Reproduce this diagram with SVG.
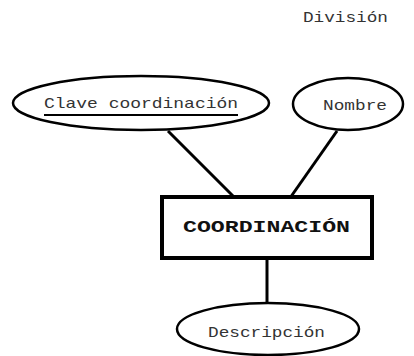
<svg xmlns="http://www.w3.org/2000/svg" width="414" height="356" viewBox="0 0 414 356">
  <style>
    .attr { fill: #ffffff; stroke: #000000; stroke-width: 2.5; }
    .entity { fill: #ffffff; stroke: #000000; stroke-width: 4; }
    .link { stroke: #000000; stroke-width: 3; fill: none; }
    .lbl { font-family: "Liberation Mono", "Courier New", monospace; font-size: 15px; fill: #333333; }
    .title { font-family: "Liberation Mono", "Courier New", monospace; font-size: 16px; font-weight: bold; fill: #111111; }
  </style>
  <rect width="414" height="356" fill="#ffffff"/>

  <g id="connectors">
    <line class="link" x1="168" y1="131" x2="235" y2="198"/>
    <line class="link" x1="337" y1="131" x2="290" y2="198"/>
    <line class="link" x1="267" y1="258" x2="267" y2="303"/>
  </g>

  <g id="division">
    <text class="lbl" x="303" y="22" textLength="85" lengthAdjust="spacingAndGlyphs">División</text>
  </g>

  <g id="clave-coordinacion">
    <ellipse class="attr" cx="141" cy="103" rx="128" ry="27"/>
    <text class="lbl" x="44" y="108" textLength="194" lengthAdjust="spacingAndGlyphs">Clave coordinación</text>
    <line x1="44" y1="115" x2="238" y2="115" stroke="#000000" stroke-width="2"/>
  </g>

  <g id="nombre">
    <ellipse class="attr" cx="348" cy="104" rx="55" ry="26"/>
    <text class="lbl" x="323" y="110" textLength="64" lengthAdjust="spacingAndGlyphs">Nombre</text>
  </g>

  <g id="coordinacion">
    <rect class="entity" x="162" y="197" width="210" height="61"/>
    <text class="title" x="183" y="232" textLength="167" lengthAdjust="spacingAndGlyphs">COORDINACIÓN</text>
  </g>

  <g id="descripcion">
    <ellipse class="attr" cx="268" cy="329" rx="91" ry="26"/>
    <text class="lbl" x="208" y="337" textLength="117" lengthAdjust="spacingAndGlyphs">Descripción</text>
  </g>
</svg>
